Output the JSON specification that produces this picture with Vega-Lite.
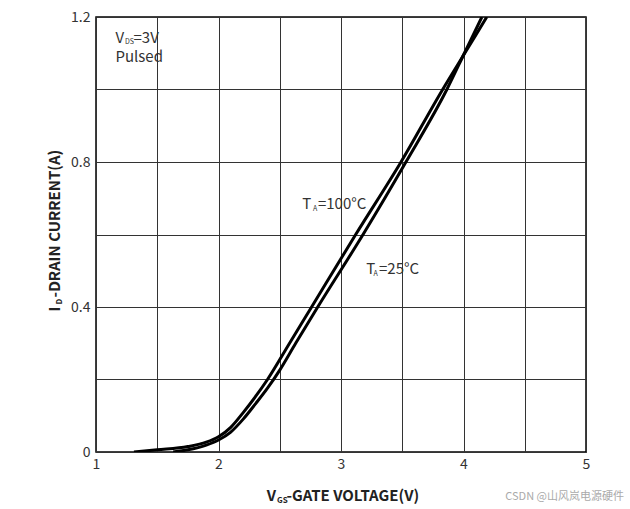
{
  "$schema": "https://vega.github.io/schema/vega-lite/v6.json",
  "width": 490,
  "height": 435,
  "autosize": {"type": "none"},
  "padding": {"left": 96, "top": 17, "right": 44, "bottom": 57},
  "background": "white",
  "config": {
    "font": "Noto Sans CJK SC",
    "view": {"stroke": "black", "strokeWidth": 1.5},
    "axis": {
      "grid": true,
      "gridColor": "#333",
      "gridWidth": 1,
      "gridOpacity": 1,
      "ticks": false,
      "domain": false,
      "labelFont": "Noto Sans CJK SC",
      "labelFontSize": 14,
      "labelColor": "#333",
      "title": null
    }
  },
  "datasets": {
    "curves": [
      {"V": 1.31, "I": 0.0, "T": "100"},
      {"V": 1.5, "I": 0.006, "T": "100"},
      {"V": 1.75, "I": 0.015, "T": "100"},
      {"V": 1.9, "I": 0.027, "T": "100"},
      {"V": 2.0, "I": 0.042, "T": "100"},
      {"V": 2.1, "I": 0.068, "T": "100"},
      {"V": 2.2, "I": 0.108, "T": "100"},
      {"V": 2.3, "I": 0.152, "T": "100"},
      {"V": 2.4, "I": 0.2, "T": "100"},
      {"V": 2.58, "I": 0.3, "T": "100"},
      {"V": 2.76, "I": 0.4, "T": "100"},
      {"V": 3.12, "I": 0.6, "T": "100"},
      {"V": 3.49, "I": 0.8, "T": "100"},
      {"V": 3.83, "I": 1.0, "T": "100"},
      {"V": 4.01, "I": 1.1, "T": "100"},
      {"V": 4.19, "I": 1.2, "T": "100"},
      {"V": 1.63, "I": 0.0, "T": "25"},
      {"V": 1.75, "I": 0.006, "T": "25"},
      {"V": 1.9, "I": 0.019, "T": "25"},
      {"V": 2.0, "I": 0.033, "T": "25"},
      {"V": 2.1, "I": 0.055, "T": "25"},
      {"V": 2.2, "I": 0.09, "T": "25"},
      {"V": 2.3, "I": 0.132, "T": "25"},
      {"V": 2.4, "I": 0.176, "T": "25"},
      {"V": 2.5, "I": 0.226, "T": "25"},
      {"V": 2.63, "I": 0.3, "T": "25"},
      {"V": 2.81, "I": 0.4, "T": "25"},
      {"V": 3.18, "I": 0.6, "T": "25"},
      {"V": 3.53, "I": 0.8, "T": "25"},
      {"V": 3.864, "I": 1.0, "T": "25"},
      {"V": 4.007, "I": 1.1, "T": "25"},
      {"V": 4.15, "I": 1.2, "T": "25"}
    ],
    "notes": [
      {"x": 1.159, "y": 1.129, "text": "V"},
      {"x": 1.306, "y": 1.129, "text": "=3V"},
      {"x": 1.159, "y": 1.077, "text": "Pulsed"},
      {"x": 2.683, "y": 0.671, "text": "T"},
      {"x": 2.812, "y": 0.671, "text": "=100°C"},
      {"x": 3.206, "y": 0.491, "text": "T"},
      {"x": 3.31, "y": 0.491, "text": "=25°C"}
    ],
    "subs": [
      {"x": 1.236, "y": 1.125, "text": "DS"},
      {"x": 2.772, "y": 0.666, "text": "A"},
      {"x": 3.265, "y": 0.486, "text": "A"}
    ],
    "xtitle": [
      {"x": 2.394, "y": -0.1363, "text": "V"},
      {"x": 2.555, "y": -0.1363, "text": "-GATE VOLTAGE(V)"}
    ],
    "xtitlesub": [
      {"x": 2.478, "y": -0.1405, "text": "GS"}
    ],
    "ytitle": [
      {"x": 0.7102, "y": 0.3879, "text": "I"},
      {"x": 0.7102, "y": 0.4265, "text": "-DRAIN CURRENT(A)"}
    ],
    "ytitlesub": [
      {"x": 0.7224, "y": 0.4066, "text": "D"}
    ],
    "mark": [
      {"x": 5.31, "y": -0.1316, "text": "CSDN @山风岚电源硬件"}
    ]
  },
  "layer": [
    {
      "data": {"name": "curves"},
      "mark": {"type": "line", "color": "black", "strokeWidth": 3, "interpolate": "monotone", "clip": true},
      "encoding": {
        "x": {
          "field": "V", "type": "quantitative",
          "scale": {"domain": [1, 5], "nice": false, "zero": false},
          "axis": {
            "values": [1, 1.5, 2, 2.5, 3, 3.5, 4, 4.5, 5],
            "format": "~g",
            "labelExpr": "datum.value % 1 == 0 ? datum.label : ''",
            "labelPadding": 5,
            "labelFlush": false
          }
        },
        "y": {
          "field": "I", "type": "quantitative",
          "scale": {"domain": [0, 1.2], "nice": false},
          "axis": {
            "values": [0, 0.2, 0.4, 0.6, 0.8, 1, 1.2],
            "format": "~g",
            "labelExpr": "round(datum.value * 10) % 4 == 0 ? datum.label : ''",
            "labelPadding": 6,
            "labelFlush": false
          }
        },
        "detail": {"field": "T"}
      }
    },
    {
      "data": {"name": "notes"},
      "mark": {"type": "text", "align": "left", "baseline": "alphabetic", "fontSize": 15, "color": "#333"},
      "encoding": {
        "x": {"field": "x", "type": "quantitative"},
        "y": {"field": "y", "type": "quantitative"},
        "text": {"field": "text"}
      }
    },
    {
      "data": {"name": "subs"},
      "mark": {"type": "text", "align": "left", "baseline": "alphabetic", "fontSize": 7, "color": "#333"},
      "encoding": {
        "x": {"field": "x", "type": "quantitative"},
        "y": {"field": "y", "type": "quantitative"},
        "text": {"field": "text"}
      }
    },
    {
      "data": {"name": "xtitle"},
      "mark": {"type": "text", "align": "left", "baseline": "alphabetic", "fontSize": 15, "fontWeight": "bold", "color": "#222"},
      "encoding": {
        "x": {"field": "x", "type": "quantitative"},
        "y": {"field": "y", "type": "quantitative"},
        "text": {"field": "text"}
      }
    },
    {
      "data": {"name": "xtitlesub"},
      "mark": {"type": "text", "align": "left", "baseline": "alphabetic", "fontSize": 8, "fontWeight": "bold", "color": "#222"},
      "encoding": {
        "x": {"field": "x", "type": "quantitative"},
        "y": {"field": "y", "type": "quantitative"},
        "text": {"field": "text"}
      }
    },
    {
      "data": {"name": "ytitle"},
      "mark": {"type": "text", "align": "left", "baseline": "alphabetic", "angle": 270, "fontSize": 15, "fontWeight": "bold", "color": "#222"},
      "encoding": {
        "x": {"field": "x", "type": "quantitative"},
        "y": {"field": "y", "type": "quantitative"},
        "text": {"field": "text"}
      }
    },
    {
      "data": {"name": "ytitlesub"},
      "mark": {"type": "text", "align": "left", "baseline": "alphabetic", "angle": 270, "fontSize": 8, "fontWeight": "bold", "color": "#222"},
      "encoding": {
        "x": {"field": "x", "type": "quantitative"},
        "y": {"field": "y", "type": "quantitative"},
        "text": {"field": "text"}
      }
    },
    {
      "data": {"name": "mark"},
      "mark": {"type": "text", "align": "right", "baseline": "alphabetic", "fontSize": 11, "color": "#aaa"},
      "encoding": {
        "x": {"field": "x", "type": "quantitative"},
        "y": {"field": "y", "type": "quantitative"},
        "text": {"field": "text"}
      }
    }
  ]
}
